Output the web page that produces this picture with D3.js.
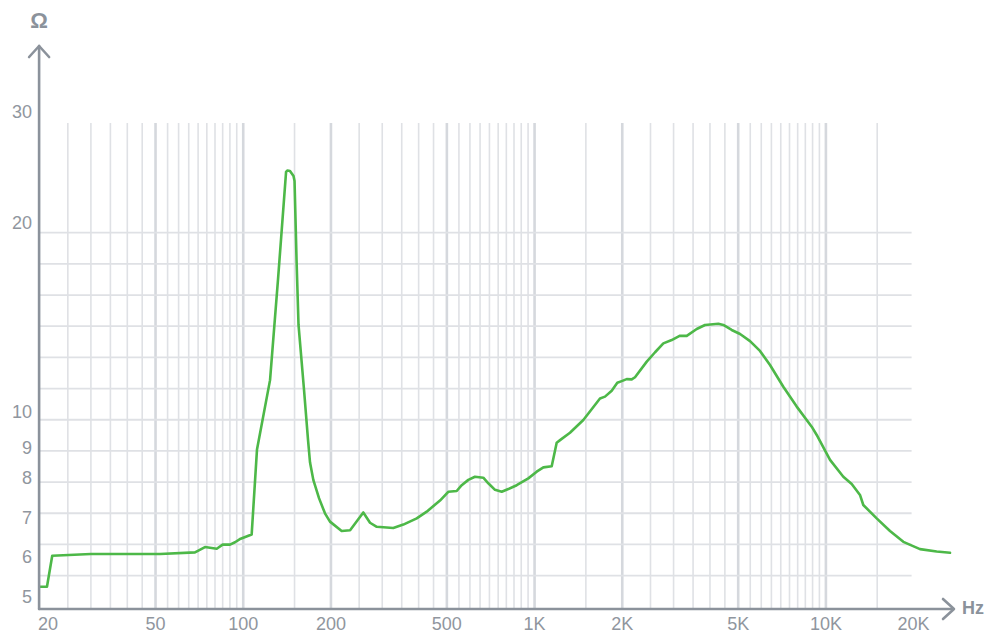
<!DOCTYPE html>
<html>
<head>
<meta charset="utf-8">
<script src="https://cdn.jsdelivr.net/npm/d3@7"></script>
<style>
  html, body { margin: 0; padding: 0; background: #fff; }
  svg { display: block; font-family: "Liberation Sans", Arial, sans-serif; }
</style>
</head>
<body>
<figure style="margin:0"></figure>
<script>
// impedance curve
const freqs = [
  20, 21.2, 22.1, 30, 51.8, 68.3, 73.9, 81.1, 85, 90.1, 93.7, 98, 106.9,
  111.5, 123.6, 131.6, 140.3, 141.9, 144.7, 148.8, 150, 152.4, 154.8, 161.7,
  166.9, 169.5, 174, 182, 190.8, 198.5, 217.7, 232.7, 258.3, 272.4, 287.3,
  327.4, 354.4, 394, 426.4, 473.6, 505.6, 540.4, 562.2, 592.4, 624.4, 666.8,
  693.8, 731.6, 771.4, 812.6, 868.4, 951.8, 1017, 1072, 1145, 1191, 1223,
  1323, 1470, 1677, 1745, 1840, 1923, 1991, 2071, 2155, 2212, 2427, 2592,
  2767, 2956, 3158, 3329, 3602, 3846, 4274, 4446, 4750, 5074, 5490, 5939,
  6429, 7142, 7940, 8938, 9300, 10332, 11476, 12264, 13092, 13439, 14938,
  16596, 18442, 21040, 24004, 26670
];
const ohms = [
  5.24, 5.24, 6.03, 6.07, 6.07, 6.11, 6.24, 6.2, 6.3, 6.3, 6.36, 6.45, 6.56,
  8.95, 11.24, 16.23, 24.1, 24.23, 24.19, 23.75, 23.32, 17.46, 13.76, 10.84,
  9.21, 8.51, 7.95, 7.48, 7.11, 6.9, 6.65, 6.67, 7.13, 6.87, 6.76,
  6.73, 6.82, 6.99, 7.15, 7.42, 7.64, 7.66, 7.81, 7.95, 8.04, 8.01,
  7.86, 7.69, 7.64, 7.71, 7.81, 7.99, 8.2, 8.34, 8.38, 9.14, 9.21,
  9.41, 9.77, 10.51, 10.58, 10.81, 11.13, 11.2, 11.28, 11.27, 11.36, 12.03, 12.45,
  12.86, 13.02, 13.23, 13.22, 13.56, 13.76, 13.82, 13.76, 13.51, 13.31, 12.97, 12.51,
  11.88, 10.97, 10.2, 9.58, 9.35, 8.59, 8.04, 7.84, 7.56, 7.31, 6.99,
  6.65, 6.37, 6.19, 6.13, 6.1
];

const xTicks = [20, 50, 100, 200, 500, 1000, 2000, 5000, 10000, 20000];
const xTickLabels = ["20", "50", "100", "200", "500", "1K", "2K", "5K", "10K", "20K"];
const yTicks = [5, 6, 7, 8, 9, 10, 20, 30];
const gridMultipliers = d3.range(1.5, 10.01, 0.5);
const gridDecades = [10, 100, 1000, 10000];
const hGridCount = 12;

const width = 989;
const height = 639;
const axisColor = "#8b929b";
const labelColor = "#90969e";
const gridColor = "#dfe1e5";
const gridStrong = "#d5d8dd";
const curveColor = "#4db848";

const figure = d3.select("figure");
const svg = figure.append("svg").attr("width", width).attr("height", height);

const x = d3.scaleLog().domain([20, 20000]).range([39.6, 913.6]);
// tick labels sit at uneven spots on the original, so the log scale is piecewise
const y = d3
  .scaleLog()
  .domain(yTicks)
  .range([597, 557, 518, 478, 448, 412, 223, 112]);
const hGrid = d3.scaleLinear().domain([0, hGridCount - 1]).range([232.7, 575.6]);

const axisY = 609;
const gridTop = 123;

// vertical grid
const gridFreqs = [];
gridDecades.forEach((dec) => {
  gridMultipliers.forEach((m) => {
    const f = Math.round(dec * m);
    if (f > 20 && f < 20000) gridFreqs.push(f);
  });
});
const uniqueFreqs = Array.from(new Set(gridFreqs));

svg
  .append("g")
  .selectAll("line")
  .data(uniqueFreqs)
  .join("line")
  .attr("x1", (d) => x(d))
  .attr("x2", (d) => x(d))
  .attr("y1", gridTop)
  .attr("y2", axisY)
  .attr("stroke", (d) => (xTicks.includes(d) ? gridStrong : gridColor))
  .attr("stroke-width", (d) => (xTicks.includes(d) ? 2.6 : 1.6));

// horizontal grid
svg
  .append("g")
  .selectAll("line")
  .data(d3.range(hGridCount))
  .join("line")
  .attr("x1", x(20))
  .attr("x2", x(20000) - 2)
  .attr("y1", (d) => hGrid(d))
  .attr("y2", (d) => hGrid(d))
  .attr("stroke", gridColor)
  .attr("stroke-width", 1.8);

// curve
const line = d3
  .line()
  .x((d) => x(d[0]))
  .y((d) => y(d[1]));

svg
  .append("path")
  .datum(d3.zip(freqs, ohms))
  .attr("d", line)
  .attr("fill", "none")
  .attr("stroke", curveColor)
  .attr("stroke-width", 2.6)
  .attr("stroke-linejoin", "round")
  .attr("stroke-linecap", "round");

// axes with arrows
const axes = svg
  .append("g")
  .attr("stroke", axisColor)
  .attr("stroke-width", 2.6)
  .attr("fill", "none")
  .attr("stroke-linecap", "round")
  .attr("stroke-linejoin", "round");

const x0 = x(20) - 0.5;
axes.append("line").attr("x1", x0).attr("x2", x0).attr("y1", 46).attr("y2", axisY);
axes.append("path").attr("d", `M${x0 - 10},${57} L${x0},${46} L${x0 + 10},${57}`);
axes.append("line").attr("x1", x0).attr("x2", 953).attr("y1", axisY).attr("y2", axisY);
axes.append("path").attr("d", `M${943},${599} L${954},${axisY} L${943},${619}`);

svg
  .append("text")
  .attr("x", x0)
  .attr("y", 20)
  .attr("dy", "0.36em")
  .attr("text-anchor", "middle")
  .attr("font-size", 22)
  .attr("font-weight", "bold")
  .attr("fill", axisColor)
  .text("Ω");

svg
  .append("text")
  .attr("x", 973)
  .attr("y", 608)
  .attr("dy", "0.35em")
  .attr("text-anchor", "middle")
  .attr("font-size", 18)
  .attr("font-weight", "bold")
  .attr("fill", axisColor)
  .text("Hz");

// tick labels
svg
  .append("g")
  .selectAll("text")
  .data(yTicks)
  .join("text")
  .attr("x", 32)
  .attr("y", (d) => y(d))
  .attr("dy", "0.35em")
  .attr("text-anchor", "end")
  .attr("font-size", 18)
  .attr("fill", labelColor)
  .text((d) => d);

svg
  .append("g")
  .selectAll("text")
  .data(xTicks)
  .join("text")
  .attr("x", (d, i) => (i === 0 ? 38 : x(d)))
  .attr("y", 624)
  .attr("dy", "0.35em")
  .attr("text-anchor", (d, i) => (i === 0 ? "start" : "middle"))
  .attr("font-size", 18)
  .attr("fill", labelColor)
  .text((d, i) => xTickLabels[i]);
</script>
</body>
</html>
